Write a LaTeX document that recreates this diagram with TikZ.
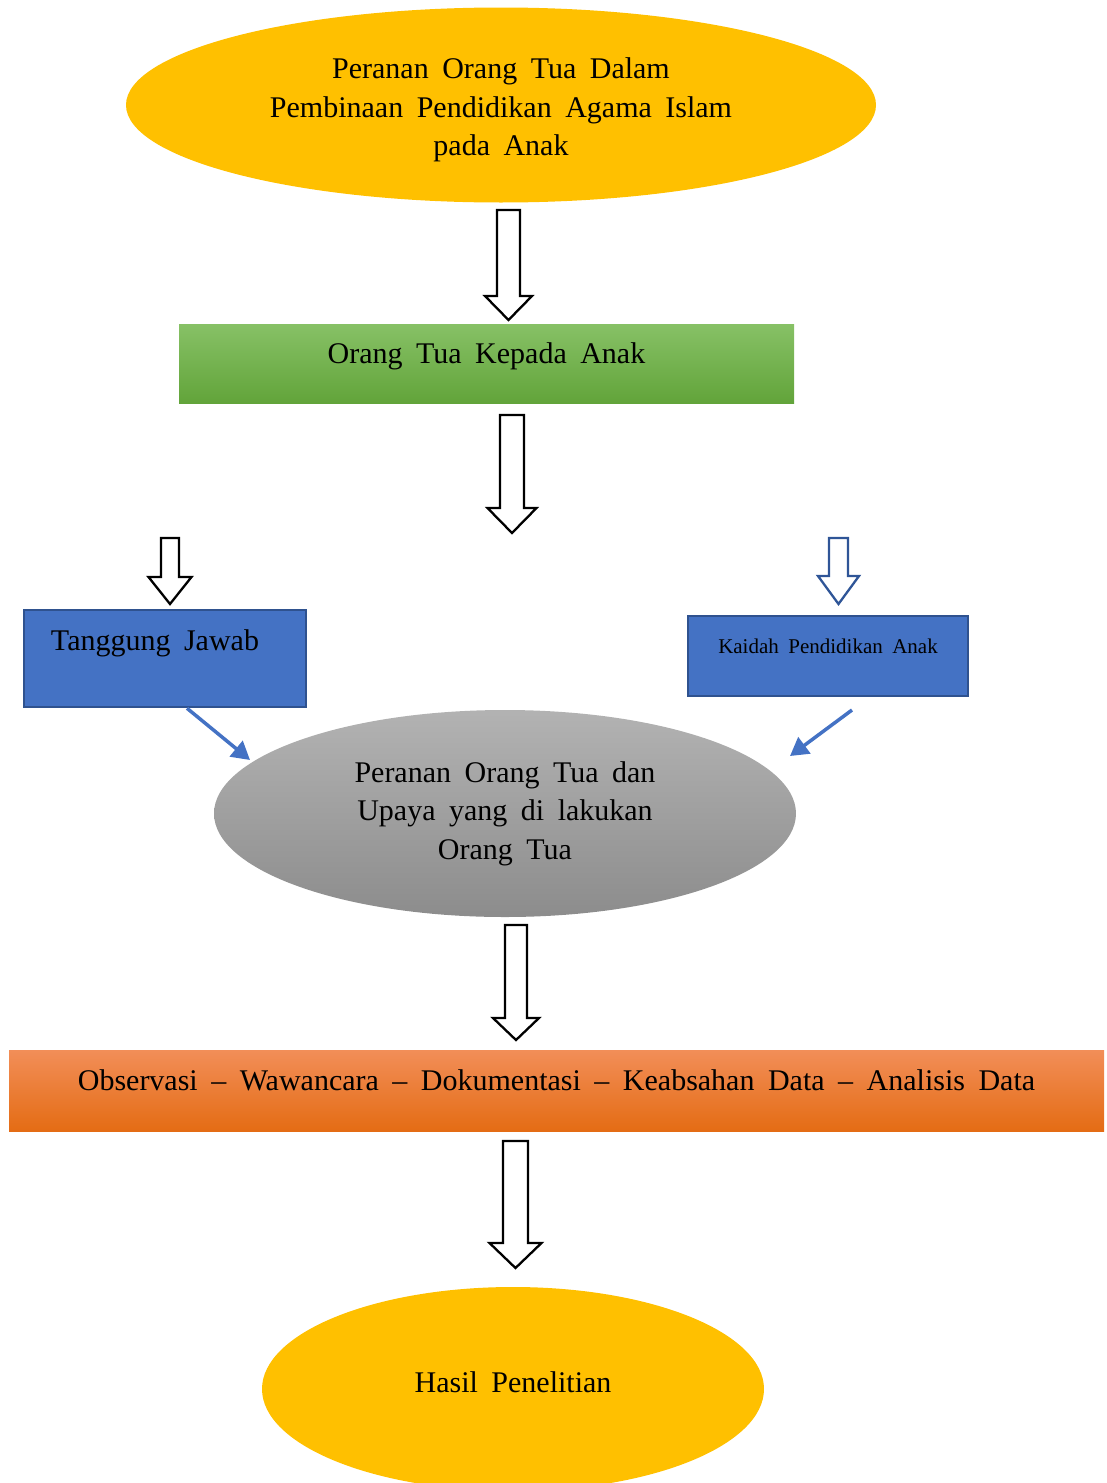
\documentclass[tikz,border=0pt]{standalone}
\usepackage{fontspec}
\setmainfont[WordSpace=1.8]{Liberation Serif}
\usetikzlibrary{shapes.geometric,arrows.meta,positioning}

\definecolor{gold}{HTML}{FFC000}
\definecolor{boxblue}{HTML}{4472C4}
\definecolor{edgeblue}{HTML}{2F528F}
\definecolor{arrowblue}{HTML}{2F5597}
\definecolor{greentop}{HTML}{87C166}
\definecolor{greenbot}{HTML}{62A43A}
\definecolor{orangetop}{HTML}{F28E58}
\definecolor{orangebot}{HTML}{E46C14}

\tikzset{
  oval/.style={ellipse, inner sep=0pt, align=center},
  flatbox/.style={rectangle, inner sep=0pt},
  bluebox/.style={flatbox, fill=boxblue, draw=edgeblue, line width=2.5pt},
  blockarr/.style={fill=white, line width=2.3pt, line join=miter},
  pointer/.style={draw=boxblue, line width=3.5pt, -{Triangle[length=18pt,width=20pt]}}
}

\begin{document}
\begin{tikzpicture}[x=1pt, y=-1pt, font=\fontsize{30}{38.5}\selectfont]
  \useasboundingbox (0,0) rectangle (1107,1483);

  % shapes
  \node[oval, fill=gold, minimum width=750pt, minimum height=195pt,
        label={[yshift=-5pt, align=center]center:Peranan Orang Tua Dalam\\Pembinaan Pendidikan Agama Islam\\pada Anak}] (topic) at (501,105) {};
  \node[flatbox, top color=greentop, bottom color=greenbot,
        minimum width=615pt, minimum height=79pt,
        label={[yshift=7pt]center:Orang Tua Kepada Anak}] (kepada) at (486.5,363.5) {};
  \node[bluebox, minimum width=282pt, minimum height=97pt,
        label={[xshift=-10pt,yshift=15pt]center:Tanggung Jawab}] (tanggung) at (165,658.5) {};
  \node[bluebox, minimum width=280pt, minimum height=80pt,
        label={[yshift=10pt,font=\fontsize{21}{25}\selectfont]center:Kaidah Pendidikan Anak}] (kaidah) at (828,656) {};
  \node[oval, top color=black!30, bottom color=black!45, minimum width=582pt, minimum height=207pt] (upaya) at (505,813.5)
    {Peranan Orang Tua dan\\Upaya yang di lakukan\\Orang Tua};
  \node[flatbox, top color=orangetop, bottom color=orangebot,
        minimum width=1095pt, minimum height=81pt,
        label={[yshift=10pt]center:Observasi -- Wawancara -- Dokumentasi -- Keabsahan Data -- Analisis Data}] (metode) at (556.5,1090.5) {};
  \node[oval, fill=gold, minimum width=502pt, minimum height=204pt,
        label={[yshift=7pt]center:Hasil Penelitian}] (hasil) at (513,1389) {};

  % block arrows: x / top / head start / tip / shaft half / head half / colour
  \foreach \x/\ya/\yb/\yc/\s/\h/\c in {508.5/210/296/320/11.5/23.5/black,
                                       512/415/508/533/12/24.5/black,
                                       170/538/577/604/9/21.5/black,
                                       838.5/538/576/604/9.5/20.5/arrowblue,
                                       516/925/1018/1040/11/23/black,
                                       515.5/1141/1243/1268/12.5/26/black} {
    \draw[blockarr, draw=\c] (\x-\s,\ya) -- (\x+\s,\ya) -- (\x+\s,\yb) -- (\x+\h,\yb)
      -- (\x,\yc) -- (\x-\h,\yb) -- (\x-\s,\yb) -- cycle;
  }

  % pointers into the grey oval
  \coordinate (tjend) at (250,760);
  \coordinate (kdstart) at (852,710);
  \coordinate (kdend) at (790,756);
  \draw[pointer] (tanggung.south -| 187,0) -- (tjend);
  \draw[pointer] (kdstart) -- (kdend);
\end{tikzpicture}
\end{document}
